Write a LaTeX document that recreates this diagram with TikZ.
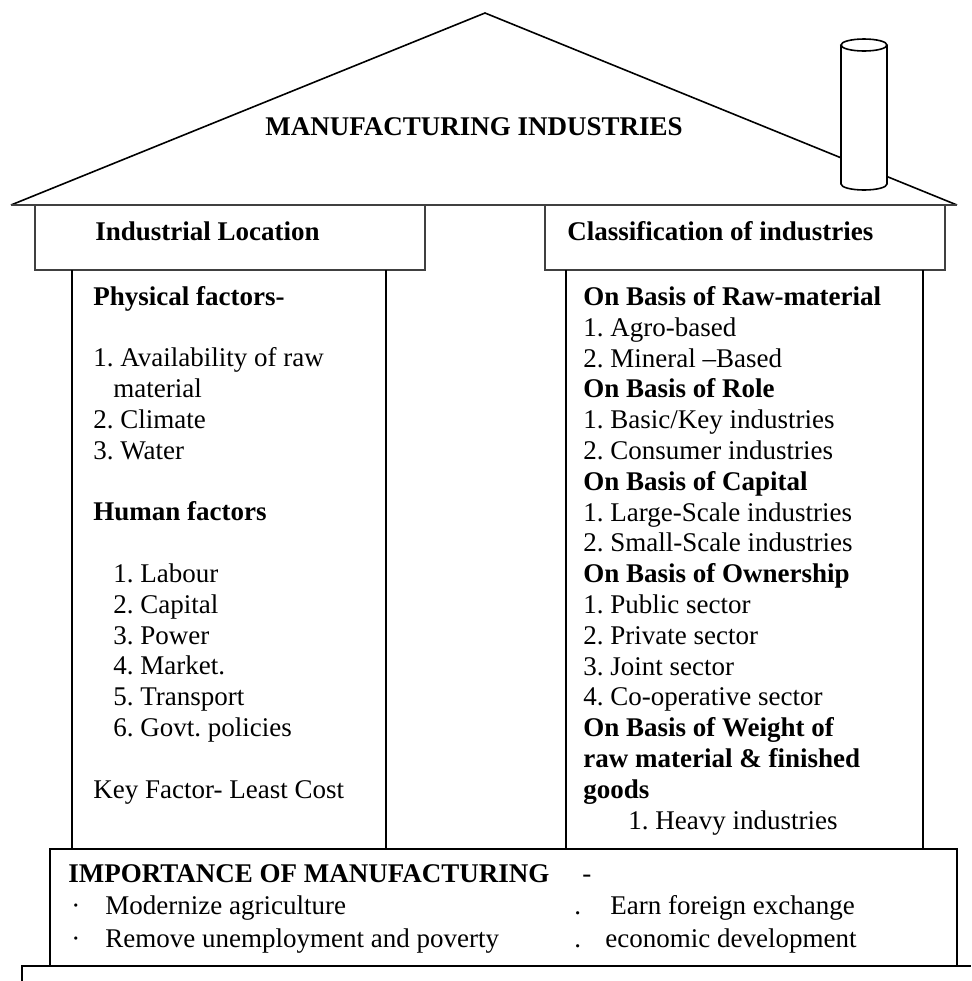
\documentclass[tikz,border=0pt]{standalone}
\usepackage{fontspec}
\setmainfont{Liberation Serif}
\frenchspacing

\begin{document}
\begin{tikzpicture}[x=0.5pt,y=-0.5pt,
  txt/.style={inner sep=0pt, anchor=base west, font=\fontsize{13.5}{15.4}\selectfont},
  btxt/.style={txt, font=\fontsize{13.5}{15.4}\selectfont\bfseries},
  coltxt/.style={txt, align=left},
  wall/.style={line width=0.8pt},
  beam/.style={line width=1.1pt, black!75}]

% Cadre
\useasboundingbox (0,0) rectangle (971,981);

% Toit
\draw[wall] (11,205) -- (485,13) -- (957,205);
\draw[beam] (11,205) -- (957,205);

% Cheminee
\draw[wall, fill=white] (841,45) -- (841,184)
  arc[start angle=180, end angle=0, x radius=23, y radius=6] -- (887,45);
\draw[wall] (864,45) ellipse[x radius=23, y radius=6];

% Titres des colonnes
\draw[beam] (35,205) rectangle (425,270);
\draw[beam] (545,205) rectangle (945,270);

% Colonnes
\draw[wall] (72,270) -- (72,849);
\draw[wall] (386,270) -- (386,849);
\draw[wall] (566,270) -- (566,849);
\draw[wall] (923,270) -- (923,849);

% Socle
\draw[wall] (50,849) rectangle (957,966);
\draw[wall] (22,981) -- (22,966) -- (971,966);

% Textes
\node[btxt, anchor=base] (title) at (474,135) {MANUFACTURING INDUSTRIES};
\node[btxt] (locHead) at (95,240) {Industrial Location};
\node[btxt] (classHead) at (567,240) {Classification of industries};

% (la base d'un texte sur plusieurs lignes est sa derniere ligne)
\node[coltxt] (locText) at (93,798) {\textbf{Physical factors-}\\[15.4pt]
  1. Availability of raw\\ \hspace*{10pt}material\\ 2. Climate\\ 3. Water\\[15.4pt]
  \textbf{Human factors}\\[15.4pt]
  \hspace*{10pt}1. Labour\\ \hspace*{10pt}2. Capital\\ \hspace*{10pt}3. Power\\
  \hspace*{10pt}4. Market.\\ \hspace*{10pt}5. Transport\\ \hspace*{10pt}6. Govt. policies\\[15.4pt]
  Key Factor- Least Cost};

\node[coltxt] (classText) at (583,829) {\textbf{On Basis of Raw-material}\\
  1. Agro-based\\ 2. Mineral –Based\\
  \textbf{On Basis of Role}\\ 1. Basic/Key industries\\ 2. Consumer industries\\
  \textbf{On Basis of Capital}\\ 1. Large-Scale industries\\ 2. Small-Scale industries\\
  \textbf{On Basis of Ownership}\\ 1. Public sector\\ 2. Private sector\\
  3. Joint sector\\ 4. Co-operative sector\\
  \textbf{On Basis of Weight of}\\ \textbf{raw material \& finished}\\ \textbf{goods}\\
  \hspace*{22.5pt}1. Heavy industries};

\node[btxt] (impHead) at (68,882) {IMPORTANCE OF MANUFACTURING};
\node[txt] (impDash) at (582,882) {-};
\node[txt] (dotA) at (71,914) {·};
\node[txt] (impA) at (105,914) {Modernize agriculture};
\node[txt] (dotB) at (71,947) {·};
\node[txt] (impB) at (105,947) {Remove unemployment and poverty};
\node[txt] (dotC) at (574,914) {.};
\node[txt] (impC) at (610,914) {Earn foreign exchange};
\node[txt] (dotD) at (574,947) {.};
\node[txt] (impD) at (605,947) {economic development};

\end{tikzpicture}
\end{document}
